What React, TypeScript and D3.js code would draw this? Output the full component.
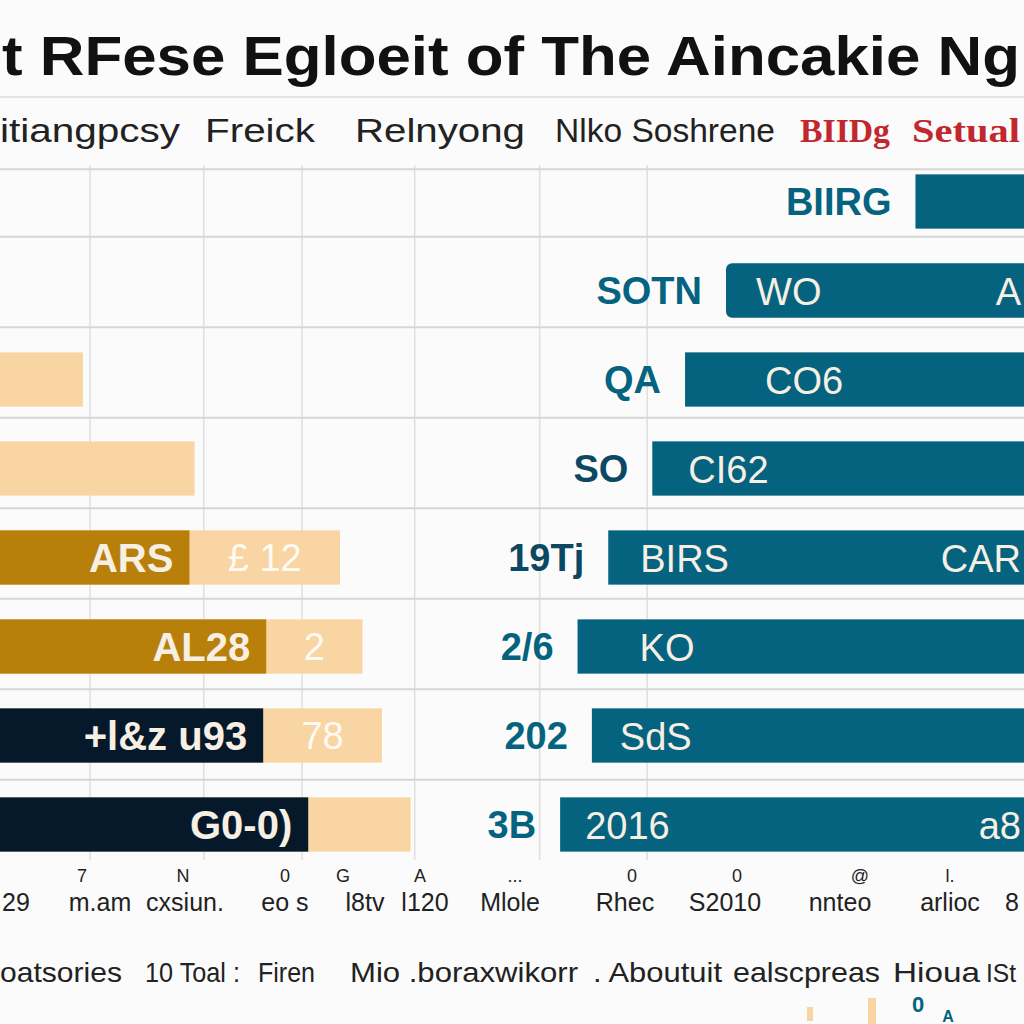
import React from "react";
import * as d3 from "d3";

// ---------- data ----------
const titleText = "t RFese Egloeit of The Aincakie Ng";
const headerLabels = ["itiangpcsy", "Freick", "Relnyong", "Nlko Soshrene", "BIIDg", "Setual"];
const rows = ["r1", "r2", "r3", "r4", "r5", "r6", "r7", "r8"];
// left stacked bars: first (dark) segment and total (dark + peach)
const leftDark = [0, 0, 0, 0, 18.5, 26.0, 25.7, 30.1];
const leftTotal = [0, 0, 8.1, 19.0, 33.2, 35.4, 37.3, 40.1];
const leftDarkKind = ["gold", "gold", "gold", "gold", "gold", "gold", "navy", "navy"];
const leftDarkLabels = ["", "", "", "", "ARS", "AL28", "+l&z u93", "G0-0)"];
const leftPeachLabels = ["", "", "", "", "£ 12", "2", "78", ""];
// right teal bars (measured from right edge)
const rightValues = [10.6, 29.1, 33.1, 36.3, 40.6, 43.6, 42.2, 45.3];
const rightOuterLabels = ["BIIRG", "SOTN", "QA", "SO", "19Tj", "2/6", "202", "3B"];
const rightInnerLabels = ["", "WO", "CO6", "CI62", "BIRS", "KO", "SdS", "2016"];
const rightFarLabels = ["", "A", "", "", "CAR", "", "", "a8"];
const gridValues = [8.8, 19.9, 29.5, 40.5, 52.7, 63.2];
const tickMarks = ["7", "N", "0", "G", "A", "...", "0", "0", "@", "l."];
const axisLabels = ["29", "m.am", "cxsiun.", "eo s", "l8tv", "l120", "Mlole", "Rhec", "S2010", "nnteo", "arlioc", "8"];
const footerLabels = ["oatsories", "10 Toal :", "Firen", "Mio .boraxwikorr", ". Aboutuit", "ealscpreas", "Hioua", "ISt"];

// ---------- layout ----------
const W = 1024, H = 1024;
const headerX = [0, 205, 355, 555, 800, 912];
const headerW = [180, 110, 170, 220, 90, 108];
const innerOffset = [0, 30, 80, 36, 32, 62, 28, 25];
const tickX = [82, 183, 285, 343, 420, 515, 632, 737, 860, 950];
const axisX = [16, 100, 185, 285, 365, 425, 510, 625, 725, 840, 950, 1012];
const footerX = [0, 145, 258, 350, 593, 733, 893, 986];
const footerW = [122, 95, 57, 228, 129, 147, 87, 30];

const C = {
  gold: "#b8800b",
  navy: "#05192a",
  peach: "#f8d5a2",
  teal: "#05637f",
  grid: "#d6d6d6",
  red: "#c1272d",
  cream: "#f7efe3",
};

export default function App() {
  const x = d3.scaleLinear().domain([0, 100]).range([0, W]);
  const xr = d3.scaleLinear().domain([0, 100]).range([W, 0]);
  const y = d3.scaleBand().domain(rows).range([157, 869]).paddingInner(0.39).paddingOuter(0.195);
  const bw = y.bandwidth();
  const font = "'Liberation Sans', Arial, sans-serif";

  return (
    <svg width={W} height={H} style={{ position: "fixed", left: 0, top: 0, background: "#fbfbfb" }} fontFamily={font}>
      <rect width={W} height={H} fill="#fbfbfb" />
      {/* title */}
      <text x={2} y={75} fontSize={56} fontWeight={900} fill="#111" textLength={1018} lengthAdjust="spacingAndGlyphs">
        {titleText}
      </text>
      <line x1={0} x2={W} y1={97} y2={97} stroke="#e4e4e4" strokeWidth={2} />
      {/* header */}
      {headerLabels.map((h, i) => (
        <text key={h} x={headerX[i]} y={142} fontSize={34} fill={i >= 4 ? C.red : "#222"}
          fontFamily={i >= 4 ? "'Liberation Serif', serif" : font} fontWeight={i >= 4 ? 700 : 400}
          textLength={headerW[i]} lengthAdjust="spacingAndGlyphs">{h}</text>
      ))}
      {/* grid */}
      {gridValues.map((g) => (
        <line key={g} x1={x(g)} x2={x(g)} y1={165} y2={860} stroke={C.grid} strokeWidth={1.5} opacity={0.75} />
      ))}
      <line x1={0} x2={W} y1={(y(rows[0]) as number) - 5} y2={(y(rows[0]) as number) - 5} stroke={C.grid} strokeWidth={2} />
      {rows.slice(0, -1).map((r, i) => {
        const yy = (y(r) as number) + bw + 8 + i * 1.5;
        return <line key={r} x1={0} x2={W} y1={yy} y2={yy} stroke={C.grid} strokeWidth={2} />;
      })}
      {/* left bars */}
      {rows.map((r, i) => {
        const y0 = y(r) as number;
        return (
          <g key={"l" + r}>
            {leftTotal[i] > 0 && <rect x={0} y={y0} width={x(leftTotal[i])} height={bw} fill={C.peach} />}
            {leftDark[i] > 0 && (
              <rect x={0} y={y0} width={x(leftDark[i])} height={bw} fill={leftDarkKind[i] === "navy" ? C.navy : C.gold} />
            )}
            {leftDarkLabels[i] && (
              <text x={x(leftDark[i]) - 16} y={y0 + bw / 2 + 14} fontSize={40} fontWeight={700} fill={C.cream} textAnchor="end">
                {leftDarkLabels[i]}
              </text>
            )}
            {leftPeachLabels[i] && (
              <text x={(x(leftDark[i]) + x(leftTotal[i])) / 2} y={y0 + bw / 2 + 13} fontSize={38} fill="#fffaf2" textAnchor="middle">
                {leftPeachLabels[i]}
              </text>
            )}
          </g>
        );
      })}
      {/* right bars */}
      {rows.map((r, i) => {
        const y0 = y(r) as number;
        const xs = xr(rightValues[i]);
        return (
          <g key={"r" + r}>
            <rect x={xs} y={y0} width={W - xs + 10} height={bw} rx={i === 1 ? 6 : 0} fill={C.teal} />
            <text x={xs - 24} y={y0 + bw / 2 + 13} fontSize={38} fontWeight={700} fill={i === 3 || i === 4 ? "#0c4862" : C.teal} textAnchor="end">
              {rightOuterLabels[i]}
            </text>
            {rightInnerLabels[i] && (
              <text x={xs + innerOffset[i]} y={y0 + bw / 2 + 14} fontSize={38} fill={C.cream}>{rightInnerLabels[i]}</text>
            )}
            {rightFarLabels[i] && (
              <text x={W - 3} y={y0 + bw / 2 + 14} fontSize={38} fill={C.cream} textAnchor="end">{rightFarLabels[i]}</text>
            )}
          </g>
        );
      })}
      {/* axis ticks & labels */}
      {tickMarks.map((t, i) => (
        <text key={"t" + i} x={tickX[i]} y={882} fontSize={18} fill="#222" textAnchor="middle">{t}</text>
      ))}
      {axisLabels.map((t, i) => (
        <text key={"a" + i} x={axisX[i]} y={911} fontSize={25} fill="#222" textAnchor="middle">{t}</text>
      ))}
      {footerLabels.map((t, i) => (
        <text key={"f" + i} x={footerX[i]} y={982} fontSize={i === 7 ? 26 : 28} fill="#222" textLength={footerW[i]} lengthAdjust="spacingAndGlyphs">{t}</text>
      ))}
      {/* bottom decorative marks */}
      <rect x={807} y={1007} width={6} height={14} fill={C.peach} />
      <rect x={868} y={998} width={8} height={26} fill={C.peach} />
      <text x={918} y={1012} fontSize={22} fontWeight={700} fill={C.teal} textAnchor="middle">0</text>
      <text x={948} y={1022} fontSize={16} fontWeight={700} fill={C.teal} textAnchor="middle">A</text>
    </svg>
  );
}
